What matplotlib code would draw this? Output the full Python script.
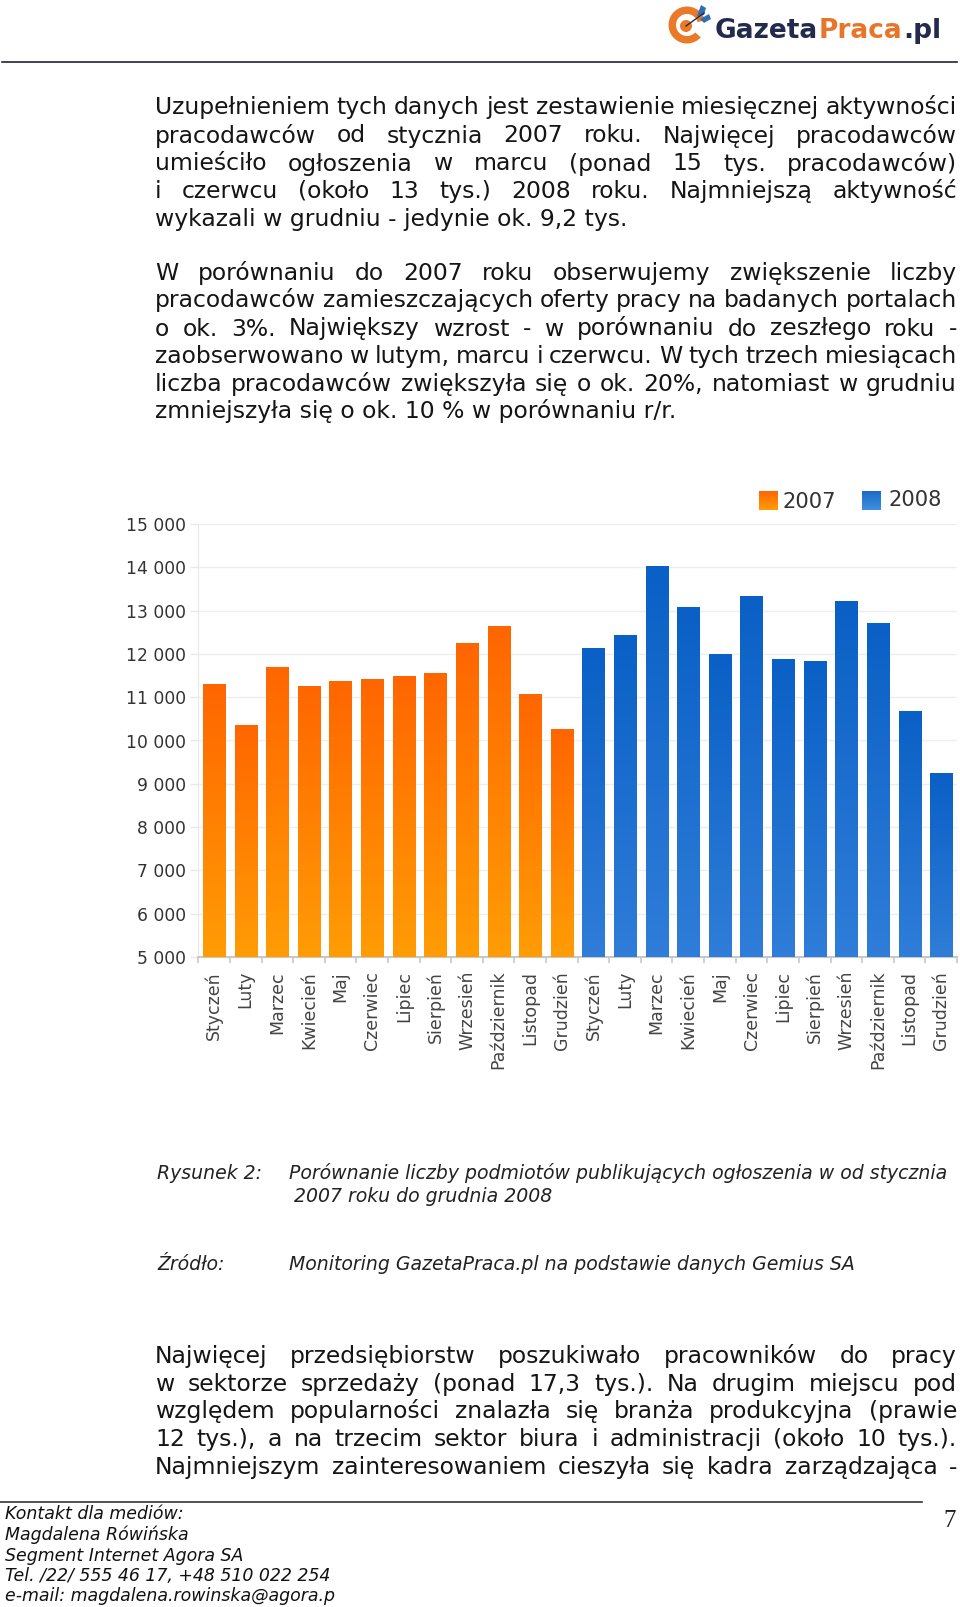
import numpy as np
import matplotlib
matplotlib.use('Agg')
from matplotlib import pyplot as plt
from matplotlib.patches import Wedge, Circle, Polygon

W, H = 960, 1607

months = ['Styczeń', 'Luty', 'Marzec', 'Kwiecień', 'Maj', 'Czerwiec', 'Lipiec',
          'Sierpień', 'Wrzesień', 'Październik', 'Listopad', 'Grudzień']
values_2007 = [11300, 10360, 11700, 11270, 11370, 11415, 11485, 11555, 12245, 12646, 11085, 10255]
values_2008 = [12140, 12430, 14020, 13075, 11990, 13330, 11885, 11845, 13225, 12715, 10690, 9240]
yticks = [5000, 6000, 7000, 8000, 9000, 10000, 11000, 12000, 13000, 14000, 15000]
ytick_labels = ['5 000', '6 000', '7 000', '8 000', '9 000', '10 000', '11 000',
                '12 000', '13 000', '14 000', '15 000']

# (text, baseline y, justified)
para_lines = [
    ('Uzupełnieniem tych danych jest zestawienie miesięcznej aktywności', 114, True),
    ('pracodawców od stycznia 2007 roku. Najwięcej pracodawców', 142.5, True),
    ('umieściło ogłoszenia w marcu (ponad 15 tys. pracodawców)', 170.5, True),
    ('i czerwcu (około 13 tys.) 2008 roku. Najmniejszą aktywność', 198, True),
    ('wykazali w grudniu - jedynie ok. 9,2 tys.', 226, False),
    ('W porównaniu do 2007 roku obserwujemy zwiększenie liczby', 280, True),
    ('pracodawców zamieszczających oferty pracy na badanych portalach', 307, True),
    ('o ok. 3%. Największy wzrost - w porównaniu do zeszłego roku -', 335.5, True),
    ('zaobserwowano w lutym, marcu i czerwcu. W tych trzech miesiącach', 363, True),
    ('liczba pracodawców zwiększyła się o ok. 20%, natomiast w grudniu', 391, True),
    ('zmniejszyła się o ok. 10 % w porównaniu r/r.', 418, False),
    ('Najwięcej przedsiębiorstw poszukiwało pracowników do pracy', 1363, True),
    ('w sektorze sprzedaży (ponad 17,3 tys.). Na drugim miejscu pod', 1391, True),
    ('względem popularności znalazła się branża produkcyjna (prawie', 1418, True),
    ('12 tys.), a na trzecim sektor biura i administracji (około 10  tys.).', 1446, True),
    ('Najmniejszym zainteresowaniem cieszyła się kadra zarządzająca -', 1474, True),
]
footer_lines = ['Kontakt dla mediów:', 'Magdalena Rówińska', 'Segment Internet Agora SA',
                'Tel. /22/ 555 46 17, +48 510 022 254', 'e-mail: magdalena.rowinska@agora.p']

plt.rcParams['font.family'] = ['DejaVu Sans']
fig = plt.figure(figsize=(W / 100, H / 100), dpi=100)
page = fig.add_axes([0, 0, 1, 1])
page.set_xlim(0, W)
page.set_ylim(H, 0)
page.set_autoscale_on(False)
page.axis('off')
renderer = fig.canvas.get_renderer()


def grad(c_top, c_bottom, n=64):
    c0 = np.array(matplotlib.colors.to_rgb(c_top))
    c1 = np.array(matplotlib.colors.to_rgb(c_bottom))
    t = np.linspace(0, 1, n)[:, None]
    return (c0 * (1 - t) + c1 * t)[:, None, :]


def word_width(s, size):
    t = page.text(0, 0, s, fontsize=size)
    w = t.get_window_extent(renderer).width
    t.remove()
    return w


def body_line(s, y, justified, x0=155, x1=957, size=16.9, color='#151515'):
    words = s.split()
    if not justified:
        page.text(x0, y, s, fontsize=size, color=color, va='baseline')
        return
    widths = [word_width(w, size) for w in words]
    gap = (x1 - x0 - sum(widths)) / (len(words) - 1)
    x = x0
    for w, ww in zip(words, widths):
        page.text(x, y, w, fontsize=size, color=color, va='baseline')
        x += ww + gap


for s, y, j in para_lines:
    body_line(s, y, j)

# header
page.plot([2, 957], [62, 62], color='#222233', lw=1.2)
page.add_patch(Wedge((687, 25), 18.5, 42, 345, width=7.5, color='#ea7a27', lw=0))
page.add_patch(Circle((686, 26), 6, color='#ea7a27', lw=0))
page.plot([686, 704], [26, 13], color='#222a4a', lw=1)
page.add_patch(Polygon([[697, 16], [701, 5], [706, 8], [704, 15]], color='#2f6fb5', lw=0))
page.add_patch(Polygon([[700, 19], [709, 14], [711, 19], [704, 23]], color='#2f6fb5', lw=0))
logo = dict(fontsize=19, fontweight='bold', va='baseline')
page.text(715, 38, 'Gazeta', color='#232a4d', **logo)
page.text(819, 38, 'Praca', color='#e8762a', **logo)
page.text(903, 38, '.pl', color='#232a4d', **logo)

# chart
left, right, top, bottom = 198.3, 957, 524, 957
ax = fig.add_axes([left / W, 1 - bottom / H, (right - left) / W, (bottom - top) / H])
n = len(months) * 2
x = np.arange(n)
bars_a = ax.bar(x[:12], values_2007, width=0.7, color='#ff7a00', zorder=2)
bars_b = ax.bar(x[12:], values_2008, width=0.7, color='#1268cc', zorder=2)
ax.set_xlim(-0.5, n - 0.5)
ax.set_ylim(5000, 15000)
ax.set_autoscale_on(False)
for bars, g in [(bars_a, grad('#ff6600', '#ff9c05')), (bars_b, grad('#0a60c6', '#2f7dd8'))]:
    for b in bars:
        im = ax.imshow(g, extent=(b.get_x(), b.get_x() + b.get_width(), 5000, b.get_height()),
                       aspect='auto', zorder=3)
        im.set_clip_path(b)

ax.set_yticks(yticks, ytick_labels)
ax.set_xticks(x, months + months, rotation=90, ha='center', va='top')
ax.set_xticks(np.arange(n + 1) - 0.5, minor=True)
ax.grid(axis='y', color='#eeeeee', lw=1, zorder=0)
ax.tick_params(axis='y', length=6, width=1, color='#e8e8e8', labelsize=12.3, labelcolor='#333333', pad=3)
ax.tick_params(axis='x', which='major', length=0, labelsize=12.5, labelcolor='#444444', pad=10)
ax.tick_params(axis='x', which='minor', length=4, width=1.2, color='#c8c8c8')
for side in ['top', 'right']:
    ax.spines[side].set_visible(False)
ax.spines['left'].set_color('#e8e8e8')
ax.spines['bottom'].set_color('#c8c8c8')
ax.spines['bottom'].set_linewidth(1.5)

# legend
page.imshow(grad('#ff6600', '#ff9c05'), extent=(759, 778, 510, 491), aspect='auto')
page.imshow(grad('#1a6cc8', '#3f90e0'), extent=(862, 881, 510, 491), aspect='auto')
page.text(783, 507.5, '2007', fontsize=15.1, color='#333333', va='baseline')
page.text(888, 506, '2008', fontsize=15.1, color='#333333', va='baseline')

# caption
cap = dict(fontsize=13.6, style='italic', color='#222222', va='baseline')
page.text(157, 1179, 'Rysunek 2:', **cap)
page.text(289, 1179, 'Porównanie liczby podmiotów publikujących ogłoszenia w od stycznia', **cap)
page.text(294, 1202, '2007 roku do grudnia 2008', **cap)
page.text(157, 1270, 'Źródło:', **cap)
page.text(289, 1270, 'Monitoring GazetaPraca.pl na podstawie danych Gemius SA', **cap)

# footer
page.plot([0, 922], [1502, 1502], color='#333333', lw=1.2)
for s, y in zip(footer_lines, [1519, 1540, 1561, 1581, 1601]):
    page.text(5, y, s, fontsize=12.5, style='italic', color='#111111', va='baseline')
page.text(943, 1527, '7', fontsize=18, family='Liberation Serif', color='#222222', va='baseline')

fig.savefig('out.png', dpi=100)
